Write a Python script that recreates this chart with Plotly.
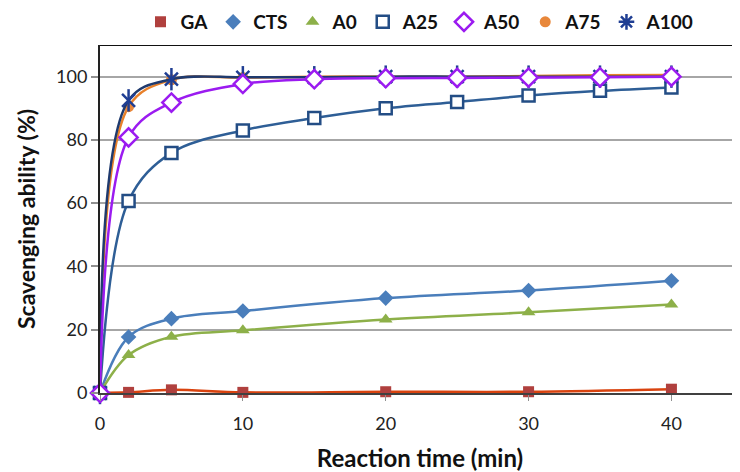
import plotly.graph_objects as go

# ---- data ----
t_short = [0, 2, 5, 10, 20, 30, 40]
t_long = [0, 2, 5, 10, 15, 20, 25, 30, 35, 40]

ga = [0, 0.2, 1.0, 0.2, 0.4, 0.4, 1.2]
cts = [0, 17.7, 23.5, 25.9, 30.0, 32.4, 35.5]
a0 = [0, 12.0, 17.8, 19.8, 23.2, 25.5, 28.0]
a25 = [0, 60.7, 75.9, 83.0, 86.9, 90.0, 92.0, 94.0, 95.5, 96.6]
a50 = [0, 80.8, 91.8, 97.7, 99.2, 99.5, 99.6, 99.7, 99.8, 100.0]
a75 = [0, 90.5, 99.0, 99.7, 100.0, 100.0, 100.0, 100.2, 100.4, 100.5]
a100 = [0, 92.5, 99.2, 99.8, 99.8, 100.0, 100.0, 100.0, 100.0, 100.0]

# name, x, y, symbol, fill, edge colour, edge width, line colour, size
series = [
    ("GA", t_short, ga, "square", "#B0403E", "#B0403E", 0, "#D9430F", 11),
    ("CTS", t_short, cts, "diamond", "#4A7EBB", "#4A7EBB", 0, "#4A7EBB", 12),
    ("A0", t_short, a0, "triangle-up", "#8DB049", "#8DB049", 0, "#8DB049", 12),
    ("A25", t_long, a25, "square", "white", "#234D85", 2.5, "#2E5E96", 12),
    ("A75", t_long, a75, "circle", "#E8873A", "#E8873A", 0, "#E8802A", 11),
    ("A100", t_long, a100, "x-thin-open", "#1F3E93", "#1F3E93", 2.5, "#1F3A6E", 13),
    ("A50", t_long, a50, "diamond", "white", "#9B1BF0", 2.5, "#9B1BF0", 14),
]
legend_order = ["GA", "CTS", "A0", "A25", "A50", "A75", "A100"]
legend_symbol = {"A100": "asterisk-open"}

FONT = "Lato"
fig = go.Figure()

for name, x, y, sym, fill, edge, ew, lc, sz in series:
    fig.add_trace(go.Scatter(
        x=x, y=y, mode="lines+markers", name=name, showlegend=False,
        line=dict(color=lc, width=2.5, shape="spline", smoothing=1.0),
        marker=dict(symbol=sym, size=sz, color=fill,
                    line=dict(color=edge, width=ew)),
        cliponaxis=False,
    ))
    if name == "A100":
        # vertical stroke of the Excel-style star marker
        fig.add_trace(go.Scatter(
            x=x, y=y, mode="markers", name=name, showlegend=False,
            marker=dict(symbol="line-ns-open", size=sz + 3, color=fill,
                        line=dict(color=edge, width=ew)),
            cliponaxis=False,
        ))

lookup = {s[0]: s for s in series}
for name in legend_order:
    _, x, y, sym, fill, edge, ew, lc, sz = lookup[name]
    fig.add_trace(go.Scatter(
        x=[None], y=[None], mode="markers", name=name, showlegend=True,
        marker=dict(symbol=legend_symbol.get(name, sym), size=sz, color=fill,
                    line=dict(color=edge, width=ew)),
    ))

fig.add_shape(type="line", xref="paper", yref="y", x0=0, x1=1, y0=110, y1=110,
              line=dict(color="#111111", width=2))

# page shows the figure with an 8px body margin, so the figure is 732x464
W, H = 732, 464
M_L, M_R, M_T, M_B = 92, 0, 37, 79
plot_h = H - M_T - M_B
fig.update_layout(
    width=W, height=H,
    margin=dict(l=M_L, r=M_R, t=M_T, b=M_B, autoexpand=False),
    paper_bgcolor="white", plot_bgcolor="white",
    font=dict(family=FONT, color="#222222"),
    legend=dict(orientation="h", x=0.5, xanchor="center",
                y=1 + (M_T + 5) / plot_h, yanchor="top",
                font=dict(family=FONT, size=19, color="#111111", weight="bold"),
                itemwidth=30, tracegroupgap=0, bgcolor="rgba(0,0,0,0)"),
    xaxis=dict(range=[0, 44.8], tickvals=[0, 10, 20, 30, 40],
               showgrid=False, zeroline=False, automargin=False,
               showline=True, linecolor="#404040", linewidth=1.5,
               ticks="outside", ticklen=6, tickcolor="#909090", tickwidth=1,
               ticklabelstandoff=8,
               tickfont=dict(size=18, color="#222222"),
               title=dict(text="Reaction time (min)", standoff=17,
                          font=dict(size=24, weight="bold", color="#111111"))),
    yaxis=dict(range=[0, 110], tickvals=[0, 20, 40, 60, 80, 100],
               showgrid=True, gridcolor="#A6A6A6", gridwidth=1.5,
               zeroline=False, automargin=False,
               showline=True, linecolor="#222222", linewidth=2,
               ticks="outside", ticklen=7, tickcolor="#909090", tickwidth=1.5,
               tickfont=dict(size=18, color="#222222"),
               title=dict(text="Scavenging ability (%)", standoff=14,
                          font=dict(size=23, weight="bold", color="#111111"))),
)

fig.write_html("out.html")
